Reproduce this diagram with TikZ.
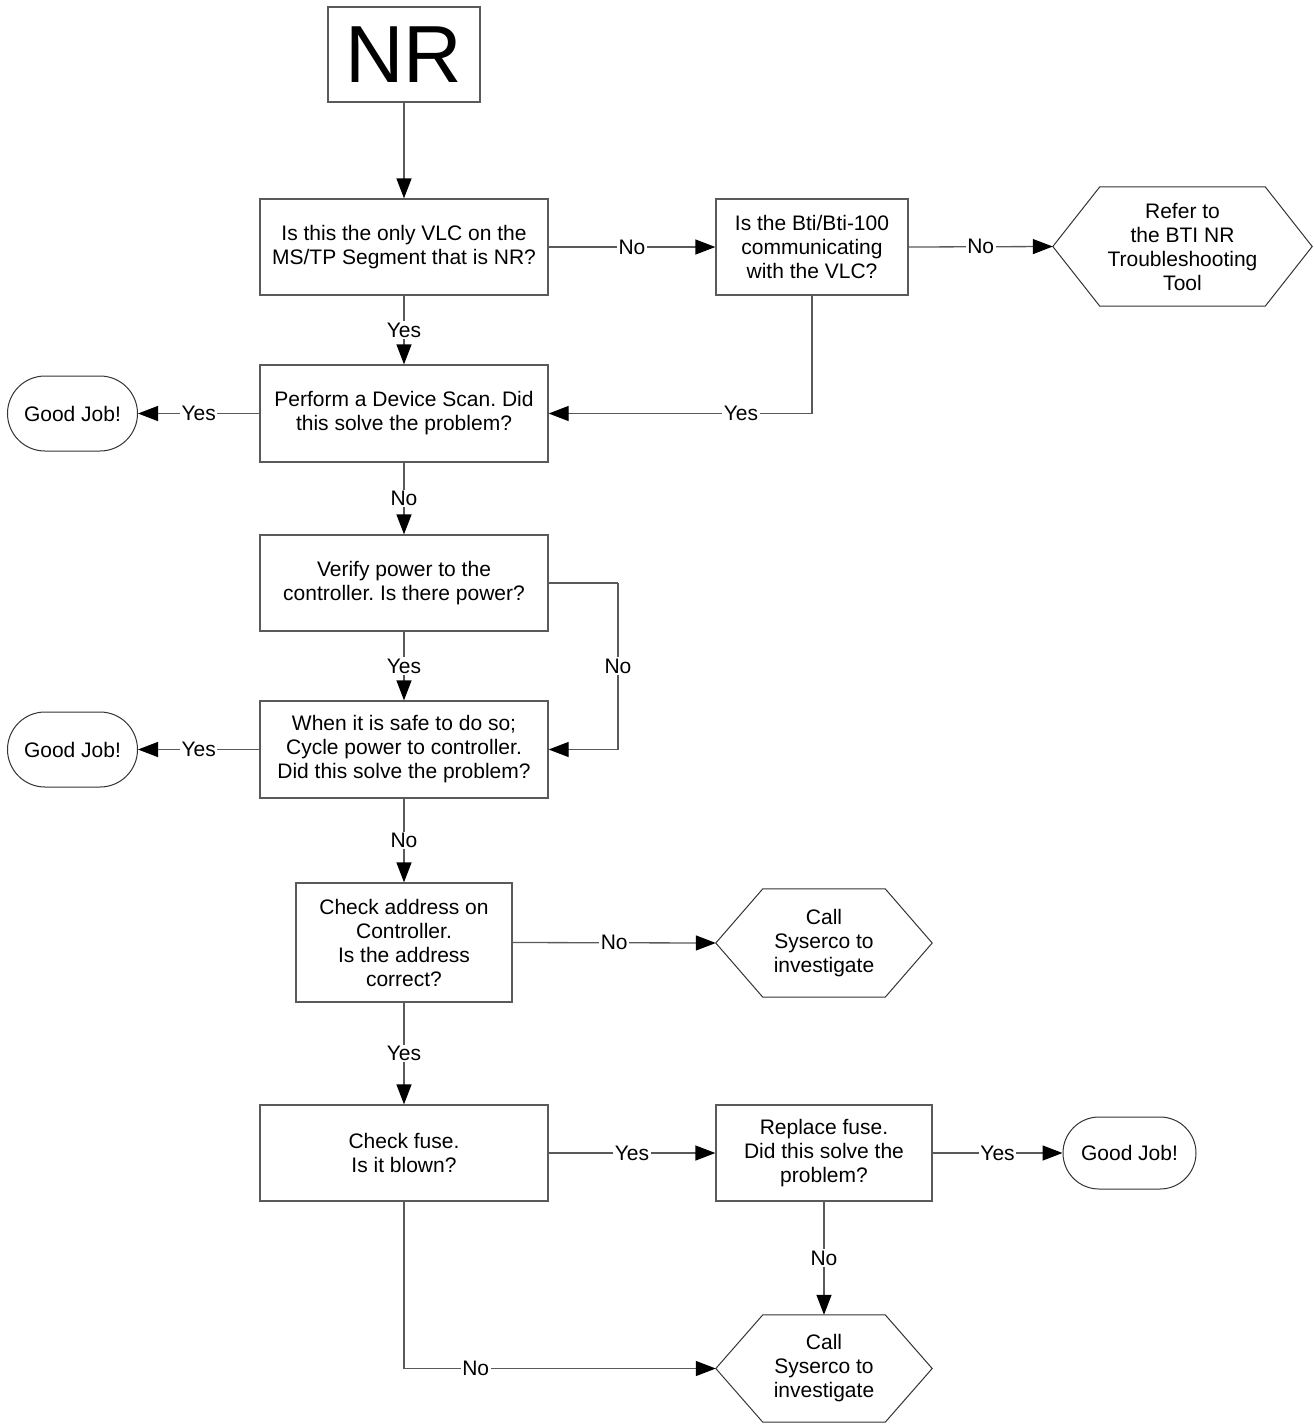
\documentclass[tikz,border=0pt]{standalone}
\usepackage{fontspec}
\setmainfont{Liberation Sans}
\usetikzlibrary{arrows.meta,shapes.misc,calc}
\definecolor{lc}{HTML}{5A5A5A}
\definecolor{sc}{HTML}{333333}
\frenchspacing
\begin{document}
\begin{tikzpicture}[x=1pt,y=-1pt,
  txt/.style={font=\fontsize{21}{24}\selectfont, align=center},
  box/.style={txt, draw=lc, line width=1.3pt, inner sep=0pt},
  term/.style={txt, rounded rectangle, draw=sc, line width=1pt, minimum width=130pt, minimum height=75pt, inner sep=0pt},
  hexn/.style={txt, inner sep=0pt, minimum width=216pt, minimum height=108pt},
  lbl/.style={txt, fill=white, inner sep=1.5pt},
  conn/.style={draw=lc, line width=1.3pt},
  arr/.style={conn, -{Triangle[length=20pt,width=15pt,color=black]}},
  hexline/.style={draw=sc, line width=1pt}
]
\useasboundingbox (0,0) rectangle (1314,1425);

% nodes
\node[box, minimum width=152pt, minimum height=95pt, font=\fontsize{81}{81}\selectfont] (nr) at (404,54.5) {NR};
\node[box, minimum width=288pt, minimum height=96pt] (b1) at (404,247) {Is this the only VLC on the\\MS/TP Segment that is NR?};
\node[box, minimum width=192pt, minimum height=96pt] (b2) at (812,247) {Is the Bti/Bti-100\\communicating\\with the VLC?};
\node[hexn, minimum width=259pt, minimum height=119pt] (h1) at (1182.5,246.5) {Refer to\\the BTI NR\\Troubleshooting\\Tool};
\node[box, minimum width=288pt, minimum height=97pt] (b3) at (404,413.5) {Perform a Device Scan. Did\\this solve the problem?};
\node[term] (g1) at (72.5,413.5) {Good Job!};
\node[box, minimum width=288pt, minimum height=96pt] (b4) at (404,583) {Verify power to the\\controller. Is there power?};
\node[box, minimum width=288pt, minimum height=97pt] (b5) at (404,749.5) {When it is safe to do so;\\Cycle power to controller.\\Did this solve the problem?};
\node[term] (g2) at (72.5,749.5) {Good Job!};
\node[box, minimum width=216pt, minimum height=119pt] (b6) at (404,942.5) {Check address on\\Controller.\\Is the address\\correct?};
\node[hexn] (h2) at (824,943) {Call\\Syserco to\\investigate};
\node[box, minimum width=288pt, minimum height=96pt] (b7) at (404,1153) {Check fuse.\\Is it blown?};
\node[box, minimum width=216pt, minimum height=96pt] (b8) at (824,1153) {Replace fuse.\\Did this solve the\\problem?};
\node[term, minimum width=133pt, minimum height=72pt] (g3) at (1129.5,1153) {Good Job!};
\node[hexn, minimum height=107pt] (h3) at (824,1368.5) {Call\\Syserco to\\investigate};

% hexagon outlines
\foreach \h in {h1,h2,h3}
  \draw[hexline] (\h.west) -- ([xshift=47pt]\h.north west) -- ([xshift=-47pt]\h.north east)
    -- (\h.east) -- ([xshift=-47pt]\h.south east) -- ([xshift=47pt]\h.south west) -- cycle;

% connectors
\draw[arr] (nr.south) -- (b1.north);
\draw[arr] (b1.east) -- node[lbl]{No} (b2.west);
\draw[arr] (b2.east) -- node[lbl]{No} (h1.west);
\draw[arr] (b1.south) -- node[lbl]{Yes} (b3.north);
\draw[arr] (b2.south) |- node[lbl, pos=0.635]{Yes} (b3.east);
\draw[arr] (b3.west) -- node[lbl]{Yes} (g1.east);
\draw[arr] (b3.south) -- node[lbl]{No} (b4.north);
\draw[arr] (b4.south) -- node[lbl]{Yes} (b5.north);
\coordinate (c1) at (618,583);
\draw[conn] (b4.east) -- (c1);
\draw[arr] (c1) |- node[lbl, pos=0.25]{No} (b5.east);
\draw[arr] (b5.west) -- node[lbl]{Yes} (g2.east);
\draw[arr] (b5.south) -- node[lbl]{No} (b6.north);
\draw[arr] (b6.east) -- node[lbl]{No} (h2.west);
\draw[arr] (b6.south) -- node[lbl]{Yes} (b7.north);
\draw[arr] (b7.east) -- node[lbl]{Yes} (b8.west);
\draw[arr] (b8.east) -- node[lbl]{Yes} (g3.west);
\draw[arr] (b8.south) -- node[lbl]{No} (h3.north);
\draw[arr] (b7.south) |- node[lbl, pos=0.615]{No} (h3.west);
\end{tikzpicture}
\end{document}
